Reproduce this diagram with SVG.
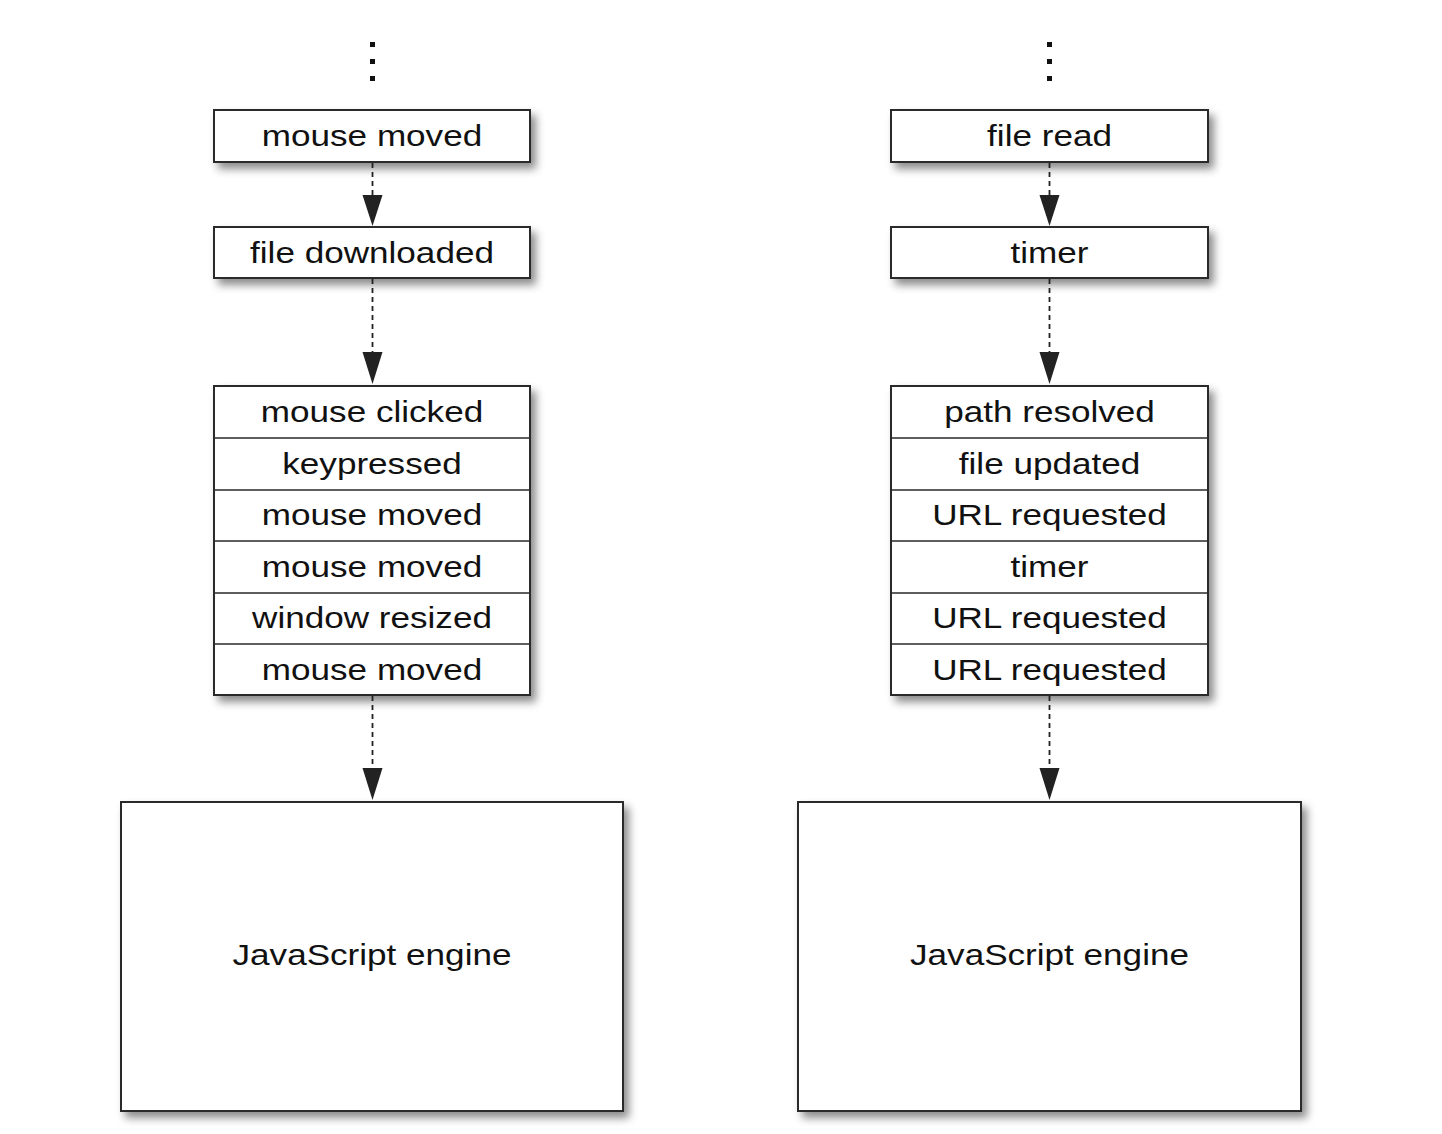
<svg xmlns="http://www.w3.org/2000/svg" width="1442" height="1134" viewBox="0 0 1442 1134">
  <defs>
    <filter id="shadow" x="-10%" y="-10%" width="130%" height="140%">
      <feDropShadow dx="5" dy="6" stdDeviation="4" flood-color="#000" flood-opacity="0.45"/>
    </filter>
  </defs>
  <style>
    .box { fill: #fff; stroke: #2a2a2a; stroke-width: 2; }
    .sep { stroke: #2a2a2a; stroke-width: 1.5; fill: none; }
    .lbl { font-family: "Liberation Sans", Arial, sans-serif; font-size: 29.5px; fill: #111; text-anchor: middle; }
    .conn { stroke: #222; stroke-width: 1.8; stroke-dasharray: 5 4; fill: none; }
    .tip { fill: #222; }
    .dot { fill: #111; }
  </style>
  <rect width="1442" height="1134" fill="#fff"/>

  <!-- left queue -->
  <g id="left-dots">
    <rect class="dot" x="370" y="42" width="5" height="5"/>
    <rect class="dot" x="370" y="59" width="5" height="5"/>
    <rect class="dot" x="370" y="76" width="5" height="5"/>
  </g>
  <g id="left-mouse-moved">
    <rect class="box" x="214" y="110" width="316" height="52" filter="url(#shadow)"/>
    <text class="lbl" transform="translate(372,146) scale(1.19,1)">mouse moved</text>
  </g>
  <g id="left-file-downloaded">
    <rect class="box" x="214" y="227" width="316" height="51" filter="url(#shadow)"/>
    <text class="lbl" transform="translate(372,263) scale(1.19,1)">file downloaded</text>
  </g>
  <g id="left-stack">
    <rect class="box" x="214" y="386" width="316" height="309" filter="url(#shadow)"/>
    <path class="sep" d="M214,438H530M214,490H530M214,541H530M214,593H530M214,644H530"/>
    <text class="lbl" transform="translate(372,422) scale(1.19,1)">mouse clicked</text>
    <text class="lbl" transform="translate(372,474) scale(1.19,1)">keypressed</text>
    <text class="lbl" transform="translate(372,525) scale(1.19,1)">mouse moved</text>
    <text class="lbl" transform="translate(372,577) scale(1.19,1)">mouse moved</text>
    <text class="lbl" transform="translate(372,628) scale(1.19,1)">window resized</text>
    <text class="lbl" transform="translate(372,680) scale(1.19,1)">mouse moved</text>
  </g>
  <g id="left-engine">
    <rect class="box" x="121" y="802" width="502" height="309" filter="url(#shadow)"/>
    <text class="lbl" transform="translate(372,965) scale(1.19,1)">JavaScript engine</text>
  </g>

  <!-- right queue -->
  <g id="right-dots">
    <rect class="dot" x="1047" y="42" width="5" height="5"/>
    <rect class="dot" x="1047" y="59" width="5" height="5"/>
    <rect class="dot" x="1047" y="76" width="5" height="5"/>
  </g>
  <g id="right-file-read">
    <rect class="box" x="891" y="110" width="317" height="52" filter="url(#shadow)"/>
    <text class="lbl" transform="translate(1049.5,146) scale(1.19,1)">file read</text>
  </g>
  <g id="right-timer">
    <rect class="box" x="891" y="227" width="317" height="51" filter="url(#shadow)"/>
    <text class="lbl" transform="translate(1049.5,263) scale(1.19,1)">timer</text>
  </g>
  <g id="right-stack">
    <rect class="box" x="891" y="386" width="317" height="309" filter="url(#shadow)"/>
    <path class="sep" d="M891,438H1208M891,490H1208M891,541H1208M891,593H1208M891,644H1208"/>
    <text class="lbl" transform="translate(1049.5,422) scale(1.19,1)">path resolved</text>
    <text class="lbl" transform="translate(1049.5,474) scale(1.19,1)">file updated</text>
    <text class="lbl" transform="translate(1049.5,525) scale(1.19,1)">URL requested</text>
    <text class="lbl" transform="translate(1049.5,577) scale(1.19,1)">timer</text>
    <text class="lbl" transform="translate(1049.5,628) scale(1.19,1)">URL requested</text>
    <text class="lbl" transform="translate(1049.5,680) scale(1.19,1)">URL requested</text>
  </g>
  <g id="right-engine">
    <rect class="box" x="798" y="802" width="503" height="309" filter="url(#shadow)"/>
    <text class="lbl" transform="translate(1049.5,965) scale(1.19,1)">JavaScript engine</text>
  </g>

  <!-- connectors: dashed shafts with solid heads -->
  <g id="connectors">
    <path class="conn" d="M372.5,163V197"/>
    <polygon class="tip" points="362.5,195 382.5,195 372.5,226"/>
    <path class="conn" d="M372.5,279V354"/>
    <polygon class="tip" points="362.5,352 382.5,352 372.5,384"/>
    <path class="conn" d="M372.5,696V770"/>
    <polygon class="tip" points="362.5,768 382.5,768 372.5,800"/>

    <path class="conn" d="M1049.5,163V197"/>
    <polygon class="tip" points="1039.5,195 1059.5,195 1049.5,226"/>
    <path class="conn" d="M1049.5,279V354"/>
    <polygon class="tip" points="1039.5,352 1059.5,352 1049.5,384"/>
    <path class="conn" d="M1049.5,696V770"/>
    <polygon class="tip" points="1039.5,768 1059.5,768 1049.5,800"/>
  </g>
</svg>
